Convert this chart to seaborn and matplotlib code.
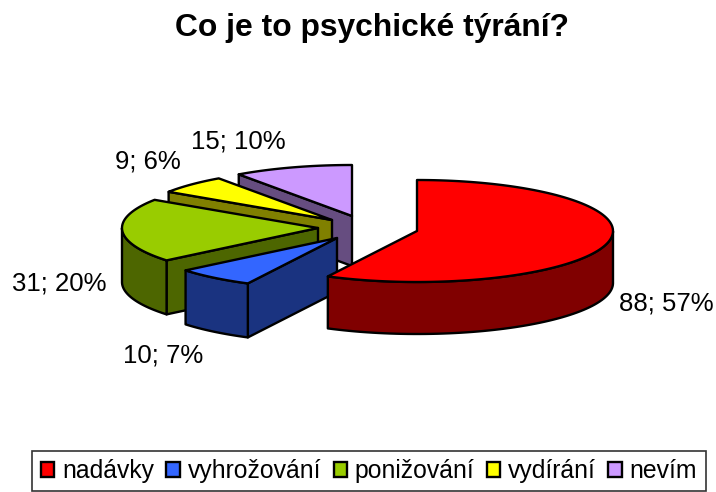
import numpy as np
import matplotlib
matplotlib.use("Agg")
import matplotlib.pyplot as plt
from matplotlib.patches import Patch, Polygon
import seaborn as sns

categories = ["nadávky", "vyhrožování", "ponižování", "vydírání", "nevím"]
values = [88, 10, 31, 9, 15]
pct_labels = ["57%", "7%", "20%", "6%", "10%"]
top_colors = ["#FF0000", "#3366FF", "#99CC00", "#FFFF00", "#CC99FF"]
side_colors = ["#800000", "#1A3380", "#4D6600", "#808000", "#664D80"]
title = "Co je to psychické týrání?"

# Layout (pixel space of the figure)
apexes = [(417, 231), (337, 238), (318, 228), (332, 220), (352, 216)]
label_pos = [(666, 303), (163, 356), (59, 283), (148, 162), (238, 142)]
depths = [52, 54, 54, 50, 50]
RX, RY = 196, 51

sns.set_theme(style="white")
plt.rcParams["font.family"] = ["Liberation Sans", "DejaVu Sans"]
fig = plt.figure(figsize=(7.16, 4.92), dpi=100)
ax = fig.add_axes([0, 0, 1, 1])
ax.set_xlim(0, 716)
ax.set_ylim(492, 0)
ax.axis("off")

pal = sns.color_palette(top_colors)
dark = sns.color_palette(side_colors)
fr = np.array(values) / sum(values)
edges = np.concatenate([[0], np.cumsum(fr)]) * 2 * np.pi


def pt(c, a):
    return c[0] + RX * np.sin(a), c[1] - RY * np.cos(a)


kw = dict(ec="black", lw=1.7, joinstyle="round")
order = [4, 3, 2, 1, 0]
for z, i in enumerate(order):
    c, a0, a1, d = apexes[i], edges[i], edges[i + 1], depths[i]
    ang = np.linspace(a0, a1, 120)
    x, y = pt(c, ang)
    # radial cut face at the start of the wedge (not for the first slice)
    if i != 0:
        sx, sy = pt(c, a0)
        ax.add_patch(Polygon([c, (sx, sy), (sx, sy + d), (c[0], c[1] + d)],
                             fc=dark[i], zorder=z * 3, **kw))
    # outer rim where it faces the viewer
    vis = (ang > np.pi / 2) & (ang < 3 * np.pi / 2)
    if vis.any():
        xv, yv = x[vis], y[vis]
        rim = np.r_[np.c_[xv, yv], np.c_[xv, yv + d][::-1]]
        ax.add_patch(Polygon(rim, fc=dark[i], zorder=z * 3 + 1, **kw))
    # top face
    ax.add_patch(Polygon(np.r_[[c], np.c_[x, y]], fc=pal[i], zorder=z * 3 + 2, **kw))

for v, p, (lx, ly) in zip(values, pct_labels, label_pos):
    ax.text(lx, ly, f"{v}; {p}", ha="center", va="center", fontsize=18.5,
            color="black", zorder=50)

ax.text(372, 28, title, ha="center", va="center", fontsize=22.9,
        fontweight="bold", color="black")

handles = [Patch(fc=c, ec="black", lw=1.7) for c in pal]
leg = ax.legend(handles, categories, ncol=5, loc="center",
                bbox_to_anchor=(369 / 716, 1 - 471 / 492),
                frameon=True, fancybox=False, edgecolor="#333333", framealpha=1,
                fontsize=17.8, labelcolor="black", handlelength=0.54, handleheight=0.54,
                handletextpad=0.32, columnspacing=0.5, borderpad=0.34,
                borderaxespad=0)
leg.get_frame().set_linewidth(1.2)
leg.set_zorder(60)
fig.savefig("out.png", dpi=100, facecolor="white")
